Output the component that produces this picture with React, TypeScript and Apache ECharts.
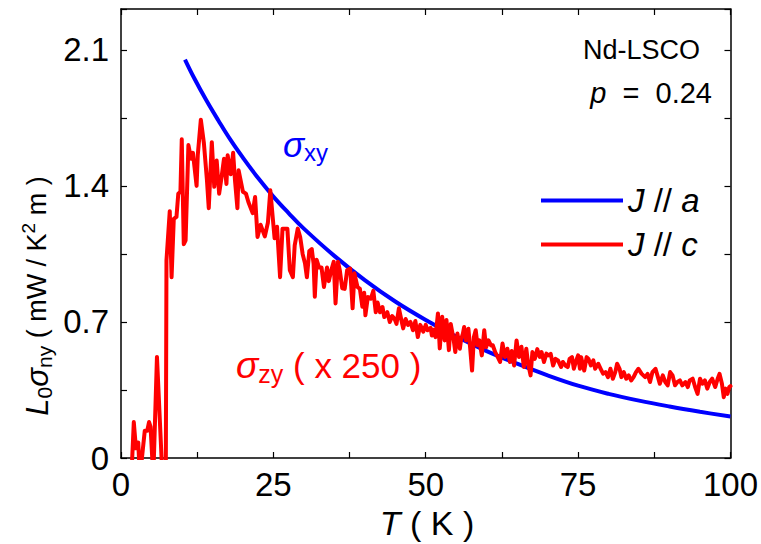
import React, { useEffect, useRef } from "react";
import * as echarts from "echarts";

const xTickLabels = [0, 25, 50, 75, 100];
const yTickLabels = [0, 0.7, 1.4, 2.1];

const blueT = [10.5, 12, 14, 16, 18, 20, 22.5, 25, 27.5, 30, 35, 40, 45, 50, 55, 60, 65, 70, 75, 80, 85, 90, 95, 100];
const blueY = [2.05, 1.955, 1.84, 1.735, 1.635, 1.545, 1.44, 1.345, 1.26, 1.18, 1.04, 0.915, 0.805, 0.71, 0.625, 0.55, 0.485, 0.425, 0.372, 0.33, 0.295, 0.265, 0.238, 0.213];

const redT = [
  1.7, 2.1, 2.45, 2.6, 2.83, 3.1, 3.9, 4.3, 4.6, 4.85, 5.3, 5.9, 6.8, 7.35, 7.46, 8.0, 8.3, 8.66, 9.1, 9.4,
  9.75, 9.97, 10.3, 10.6, 11.06, 11.5, 11.8, 12.4, 12.6, 13.1, 13.6, 14.1, 14.4, 14.9, 15.3, 15.7, 16.1, 16.5, 16.9, 17.3,
  17.5, 18.0, 18.4, 18.7, 19.1, 19.3, 20.0, 20.5, 20.9, 21.6, 22.0, 22.4, 22.9, 23.6, 24.1, 24.5, 25.2, 25.6, 26.1, 26.5,
  27.3, 27.7, 28.2, 28.5, 29.0, 29.4, 29.8, 30.2, 30.5, 30.9, 31.3, 31.6, 31.8, 32.1, 32.5, 32.9, 33.3, 33.8, 34.1, 34.5,
  34.9, 35.2, 35.6, 35.9, 36.3, 36.7, 37.1, 37.6, 38.0, 38.3, 38.8, 39.2, 39.6, 39.9, 40.1, 40.5, 41.0, 41.4, 41.8, 42.1,
  42.5, 42.9, 43.2, 43.7, 44.1, 44.5, 44.9, 45.2, 45.6, 46.0, 46.3, 46.7, 47.1, 47.5, 47.9, 48.3, 48.7, 49.1, 49.6, 50.0,
  50.3, 50.8, 51.0, 51.3, 51.6, 52.0, 52.3, 52.7, 53.1, 53.4, 53.8, 54.1, 54.6, 54.85, 55.2, 55.6, 55.8, 56.1, 56.3, 56.6,
  57.0, 57.3, 57.6, 57.9, 58.2, 58.5, 58.8, 59.2, 59.6, 59.9, 60.3, 60.7, 61.0, 61.4, 61.8, 62.2, 62.6, 63.0, 63.4, 63.8,
  64.1, 64.5, 64.9, 65.3, 65.7, 66.1, 66.5, 66.8, 67.2, 67.5, 67.9, 68.3, 68.7, 69.0, 69.4, 69.8, 70.1, 70.5, 70.9, 71.3,
  71.7, 72.2, 72.5, 72.9, 73.3, 73.6, 74.0, 74.3, 74.7, 75.0, 75.3, 75.5, 76.0, 76.4, 76.7, 77.1, 77.5, 77.8, 78.3, 78.7,
  79.1, 79.5, 79.9, 80.3, 80.7, 81.1, 81.4, 81.8, 82.1, 82.5, 82.9, 83.3, 83.7, 84.1, 84.5, 84.9, 85.4, 86.0, 86.4, 86.8,
  87.2, 87.7, 88.1, 88.4, 88.9, 89.3, 89.7, 90.1, 90.5, 90.9, 91.3, 91.7, 92.1, 92.6, 93.0, 93.3, 93.8, 94.2, 94.6, 95.0,
  95.4, 95.8, 96.2, 96.6, 97.0, 97.5, 97.9, 98.2, 98.6, 98.9, 99.2, 99.5, 99.8, 100
];
const redY = [
  -0.1, 0.185, 0.05, 0.08, 0.08, -0.1, 0.14, 0.14, 0.185, 0.16, -0.1, 0.52, -0.1, -0.1, 1.017, 1.27, 0.93, 1.23, 1.24, 1.36,
  1.37, 1.64, 1.1, 1.12, 1.61, 1.54, 1.57, 1.4, 1.56, 1.74, 1.62, 1.43, 1.285, 1.625, 1.395, 1.53, 1.36, 1.445, 1.54, 1.41,
  1.557, 1.46, 1.57, 1.43, 1.285, 1.48, 1.37, 1.36, 1.317, 1.26, 1.343, 1.137, 1.2, 1.14, 1.21, 1.377, 1.13, 1.19, 0.93, 1.18,
  1.18, 0.966, 0.93, 1.094, 1.18, 1.137, 1.05, 1.0, 0.93, 1.065, 1.075, 1.0, 0.83, 1.02, 0.98, 0.98, 0.88, 0.98, 0.91, 0.966,
  1.01, 0.795, 1.01, 0.966, 0.873, 0.87, 0.966, 0.975, 0.77, 0.95, 0.88, 0.87, 0.778, 0.85, 0.734, 0.828, 0.82, 0.86, 0.75, 0.8,
  0.75, 0.777, 0.725, 0.75, 0.7, 0.73, 0.715, 0.69, 0.77, 0.71, 0.667, 0.715, 0.685, 0.7, 0.657, 0.705, 0.622, 0.685, 0.65, 0.685,
  0.657, 0.67, 0.63, 0.66, 0.622, 0.744, 0.564, 0.727, 0.605, 0.71, 0.555, 0.69, 0.605, 0.545, 0.64, 0.562, 0.61, 0.64, 0.674, 0.605,
  0.665, 0.562, 0.45, 0.622, 0.657, 0.58, 0.605, 0.528, 0.657, 0.57, 0.605, 0.579, 0.58, 0.545, 0.52, 0.494, 0.589, 0.52, 0.562, 0.494,
  0.55, 0.476, 0.605, 0.52, 0.572, 0.468, 0.562, 0.485, 0.425, 0.545, 0.51, 0.56, 0.52, 0.545, 0.494, 0.537, 0.528, 0.536, 0.476, 0.51,
  0.502, 0.468, 0.494, 0.476, 0.468, 0.51, 0.519, 0.459, 0.502, 0.528, 0.459, 0.519, 0.45, 0.519, 0.51, 0.476, 0.502, 0.459, 0.485, 0.459,
  0.434, 0.442, 0.416, 0.459, 0.408, 0.442, 0.485, 0.459, 0.416, 0.442, 0.408, 0.425, 0.399, 0.416, 0.442, 0.459, 0.434, 0.416, 0.433, 0.391,
  0.442, 0.459, 0.416, 0.382, 0.425, 0.391, 0.374, 0.442, 0.425, 0.374, 0.391, 0.399, 0.374, 0.391, 0.365, 0.399, 0.408, 0.365, 0.33, 0.408,
  0.382, 0.399, 0.357, 0.391, 0.408, 0.365, 0.408, 0.433, 0.382, 0.313, 0.357, 0.33, 0.365, 0.37
];

const FONT = "'Liberation Sans', Arial, sans-serif";

function zip(a: number[], b: number[]) {
  return a.map((v, i) => [v, b[i]]);
}

function near(list: number[], v: number) {
  return list.some((t) => Math.abs(t - v) < 1e-6);
}

export default function App() {
  const ref = useRef<HTMLDivElement>(null);

  useEffect(() => {
    document.body.style.margin = "0";
    const chart = echarts.init(ref.current!, null, { renderer: "svg" });

    const axisLine = { show: true, onZero: false, lineStyle: { color: "#000", width: 1.5 } };
    const axisTick = { show: true, inside: true, length: 6, lineStyle: { color: "#000", width: 1.2 } };
    const labelStyle = { color: "#000", fontSize: 33, fontFamily: FONT };

    const yRich = {
      i: { fontStyle: "italic", fontSize: 31, fontFamily: FONT, fill: "#000", lineHeight: 36 },
      n: { fontSize: 27, fontFamily: FONT, fill: "#000", lineHeight: 36 },
      sub: { fontSize: 21, fontFamily: FONT, fill: "#000", lineHeight: 21, verticalAlign: "bottom" },
      sup: { fontSize: 19, fontFamily: FONT, fill: "#000", lineHeight: 19, verticalAlign: "top" },
    };
    const xRich = {
      i: { fontStyle: "italic", fontSize: 34, fontFamily: FONT, fill: "#000" },
      n: { fontSize: 34, fontFamily: FONT, fill: "#000" },
    };
    const colorRich = (c: string, s: number) => ({
      g: { fontStyle: "italic", fontSize: s + 2, fontFamily: FONT, fill: c, lineHeight: s + 8 },
      n: { fontSize: s, fontFamily: FONT, fill: c, lineHeight: s + 8 },
      sub: { fontSize: Math.round(s * 0.72), fontFamily: FONT, fill: c, lineHeight: Math.round(s * 0.72), verticalAlign: "bottom" },
    });

    chart.setOption({
      animation: false,
      backgroundColor: "#fff",
      grid: { left: 121, right: 28, top: 9, bottom: 86 },
      xAxis: [
        {
          type: "value", min: 0, max: 100, interval: 12.5, position: "bottom",
          axisLine, axisTick, splitLine: { show: false },
          axisLabel: { ...labelStyle, margin: 10, formatter: (v: number) => (near(xTickLabels, v) ? String(v) : "") },
        },
        {
          type: "value", min: 0, max: 100, interval: 12.5, position: "top",
          axisLine, axisTick, splitLine: { show: false }, axisLabel: { show: false },
        },
      ],
      yAxis: [
        {
          type: "value", min: 0, max: 2.31, interval: 0.35, position: "left",
          axisLine, axisTick, splitLine: { show: false },
          axisLabel: {
            ...labelStyle, margin: 12,
            formatter: (v: number) => (near(yTickLabels, v) ? (Math.abs(v) < 1e-9 ? "0" : v.toFixed(1)) : ""),
          },
        },
        {
          type: "value", min: 0, max: 2.31, interval: 0.35, position: "right",
          axisLine, axisTick, splitLine: { show: false }, axisLabel: { show: false },
        },
      ],
      legend: {
        orient: "vertical",
        left: 541,
        top: 184,
        padding: 0,
        itemWidth: 82,
        itemHeight: 4,
        itemGap: 11,
        icon: "rect",
        data: ["J // a", "J // c"],
        formatter: (name: string) => (name === "J // a" ? "{i|J} // {i|a}" : "{i|J} // {i|c}"),
        textStyle: {
          fontSize: 33, fontFamily: FONT, color: "#000", lineHeight: 32,
          rich: { i: { fontStyle: "italic", fontSize: 33, fontFamily: FONT, color: "#000" } },
        },
      },
      series: [
        {
          name: "J // a", type: "line", data: zip(blueT, blueY), smooth: 0.4,
          symbol: "none", showSymbol: false, color: "#0000ff",
          lineStyle: { color: "#0000ff", width: 4 },
        },
        {
          name: "J // c", type: "line", data: zip(redT, redY), smooth: false,
          symbol: "none", showSymbol: false, color: "#ff0000", clip: true,
          lineStyle: { color: "#ff0000", width: 4, join: "round", cap: "round" },
        },
      ],
      graphic: [
        {
          type: "text", x: 700, y: 50,
          style: { text: "Nd-LSCO", fill: "#000", fontSize: 27, fontFamily: FONT, textAlign: "right", textVerticalAlign: "middle" },
        },
        {
          type: "text", x: 712, y: 93,
          style: {
            text: "{i|p}{n|  =  0.24}", textAlign: "right", textVerticalAlign: "middle",
            rich: {
              i: { fontStyle: "italic", fontSize: 29, fontFamily: FONT, fill: "#000" },
              n: { fontSize: 29, fontFamily: FONT, fill: "#000" },
            },
          },
        },
        {
          type: "text", x: 283, y: 144,
          style: { text: "{g|σ}{sub|xy}", textAlign: "left", textVerticalAlign: "middle", rich: colorRich("#0000ff", 33) },
        },
        {
          type: "text", x: 236, y: 365,
          style: { text: "{g|σ}{sub|zy}{n| ( x 250 )}", textAlign: "left", textVerticalAlign: "middle", rich: colorRich("#ff0000", 35) },
        },
        {
          type: "text", x: 427, y: 523,
          style: { text: "{i|T}{n| ( K )}", textAlign: "center", textVerticalAlign: "middle", rich: xRich },
        },
        {
          type: "text", x: 37, y: 296, rotation: Math.PI / 2,
          style: {
            text: "{i|L}{sub|0}{i|σ}{sub|ny}{n| ( mW / K}{sup|2}{n| m )}",
            textAlign: "center", textVerticalAlign: "middle", rich: yRich,
          },
        },
      ],
    });

    return () => chart.dispose();
  }, []);

  return <div ref={ref} style={{ width: 761, height: 544 }} />;
}
